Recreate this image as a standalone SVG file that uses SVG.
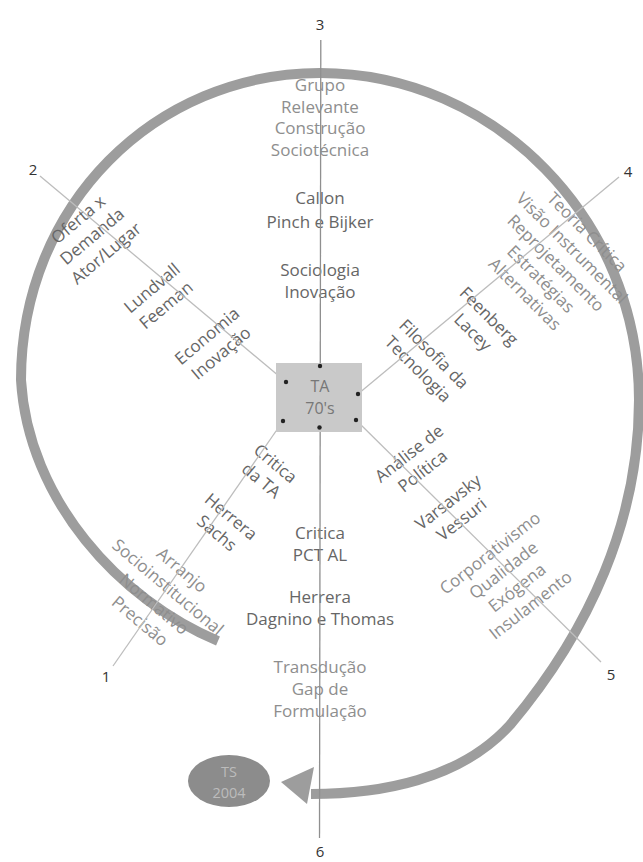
<svg xmlns="http://www.w3.org/2000/svg" width="643" height="862" viewBox="0 0 643 862">
<style>
text{font-family:"Open Sans","Liberation Sans",Arial,sans-serif;font-size:17px;fill:#666;text-anchor:middle}
.lt{fill:#8e8e8e}
.num{font-size:15px;fill:#333}
.band{fill:none;stroke:#9d9d9d;stroke-width:10}
.axis{stroke:#8f8f8f;stroke-width:1.3}
.diag{stroke:#bdbdbd;stroke-width:1.3}
.dot{fill:#222}
.inbox{fill:#777;font-size:16px}
.ints{fill:#bcbcbc;font-size:14.5px}
</style>
<rect width="643" height="862" fill="#fff"/>
<g id="connectors">
<path class="band" d="M218,641 C120,600 28,500 21,380 C21,205 155,73 320,73 C495,73 639,220 639,400 C639,520 590,630 510,725 C460,780 380,794 311,794"/>
<polygon points="281,782 314,767 307,804" fill="#9d9d9d"/>
</g>
<g id="labels-axis3">
<text class="lt" x="320" y="91">Grupo</text>
<text class="lt" x="320" y="113">Relevante</text>
<text class="lt" x="320" y="134">Construção</text>
<text class="lt" x="320" y="156">Sociotécnica</text>
<text x="320" y="204">Callon</text>
<text x="320" y="228">Pinch e Bijker</text>
<text x="320" y="276">Sociologia</text>
<text x="320" y="298">Inovação</text>
</g>
<g id="labels-axis6">
<text x="320" y="539">Critica</text>
<text x="320" y="561">PCT AL</text>
<text x="320" y="603">Herrera</text>
<text x="320" y="625">Dagnino e Thomas</text>
<text class="lt" x="320" y="673">Transdução</text>
<text class="lt" x="320" y="695">Gap de</text>
<text class="lt" x="320" y="717">Formulação</text>
</g>
<g id="labels-axis2">
<text transform="translate(78 219.4) rotate(-40)" y="6">Oferta x</text>
<text transform="translate(92 236.3) rotate(-40)" y="6">Demanda</text>
<text transform="translate(106 253.2) rotate(-40)" y="6">Ator/Lugar</text>
<text transform="translate(152 288) rotate(-40)" y="6">Lundvall</text>
<text transform="translate(166 305) rotate(-40)" y="6">Feeman</text>
<text transform="translate(207 336) rotate(-40)" y="6">Economia</text>
<text transform="translate(221 353) rotate(-40)" y="6">Inovação</text>
</g>
<g id="labels-axis4">
<text class="lt" transform="translate(587 232) rotate(45)" y="6">Teoria Crítica</text>
<text class="lt" transform="translate(572 248) rotate(45)" y="6">Visão Instrumental</text>
<text class="lt" transform="translate(556 263) rotate(45)" y="6">Reprojetamento</text>
<text class="lt" transform="translate(541 279) rotate(45)" y="6">Estratégias</text>
<text class="lt" transform="translate(525 294) rotate(45)" y="6">Alternativas</text>
<text transform="translate(489 316) rotate(45)" y="6">Feenberg</text>
<text transform="translate(473 332) rotate(45)" y="6">Lacey</text>
<text transform="translate(434 354) rotate(45)" y="6">Filosofia da</text>
<text transform="translate(418 369) rotate(45)" y="6">Tecnologia</text>
</g>
<g id="labels-axis1">
<text transform="translate(275.5 463.5) rotate(40)" y="6">Critica</text>
<text transform="translate(261.4 480.4) rotate(40)" y="6">da TA</text>
<text transform="translate(231 516.5) rotate(40)" y="6">Herrera</text>
<text transform="translate(217 533) rotate(40)" y="6">Sachs</text>
<text class="lt" transform="translate(182 570) rotate(40)" y="6">Arranjo</text>
<text class="lt" transform="translate(168 587) rotate(40)" y="6">Socioinstitucional</text>
<text class="lt" transform="translate(154 604) rotate(40)" y="6">Normativo</text>
<text class="lt" transform="translate(140 621) rotate(40)" y="6">Precisão</text>
</g>
<g id="labels-axis5">
<text transform="translate(409 453.5) rotate(-38)" y="6">Análise de</text>
<text transform="translate(422.5 471) rotate(-38)" y="6">Política</text>
<text transform="translate(448 502) rotate(-38)" y="6">Varsavsky</text>
<text transform="translate(461.5 519.3) rotate(-38)" y="6">Vessuri</text>
<text class="lt" transform="translate(490 553) rotate(-38)" y="6">Corporativismo</text>
<text class="lt" transform="translate(503.5 570.3) rotate(-38)" y="6">Qualidade</text>
<text class="lt" transform="translate(517 587.6) rotate(-38)" y="6">Exógena</text>
<text class="lt" transform="translate(530.5 605) rotate(-38)" y="6">Insulamento</text>
</g>
<g id="axes">
<line class="axis" x1="320.8" y1="40" x2="319.5" y2="838"/>
<line class="diag" x1="40" y1="176" x2="286" y2="382"/>
<line class="diag" x1="619" y1="177" x2="358" y2="394"/>
<line class="diag" x1="113" y1="666" x2="283" y2="421"/>
<line class="diag" x1="356" y1="420" x2="601" y2="662"/>
</g>
<g id="node-TA">
<rect x="276" y="363" width="86" height="69" fill="#c9c9c9"/>
<text class="inbox" x="320" y="392">TA</text>
<text class="inbox" x="320" y="414">70's</text>
<circle class="dot" cx="320" cy="366" r="2.2"/>
<circle class="dot" cx="286" cy="382" r="2.2"/>
<circle class="dot" cx="358" cy="394" r="2.2"/>
<circle class="dot" cx="283" cy="421" r="2.2"/>
<circle class="dot" cx="356" cy="420" r="2.2"/>
<circle class="dot" cx="319.5" cy="427.5" r="2.2"/>
</g>
<g id="node-TS">
<ellipse cx="229" cy="781" rx="41" ry="26" fill="#8c8c8c"/>
<text class="ints" x="229" y="777">TS</text>
<text class="ints" x="229" y="798">2004</text>
</g>
<g id="axis-numbers">
<text class="num" x="320" y="30">3</text>
<text class="num" x="33" y="175">2</text>
<text class="num" x="628" y="177">4</text>
<text class="num" x="106" y="682">1</text>
<text class="num" x="611" y="680">5</text>
<text class="num" x="320" y="857">6</text>
</g>
</svg>
